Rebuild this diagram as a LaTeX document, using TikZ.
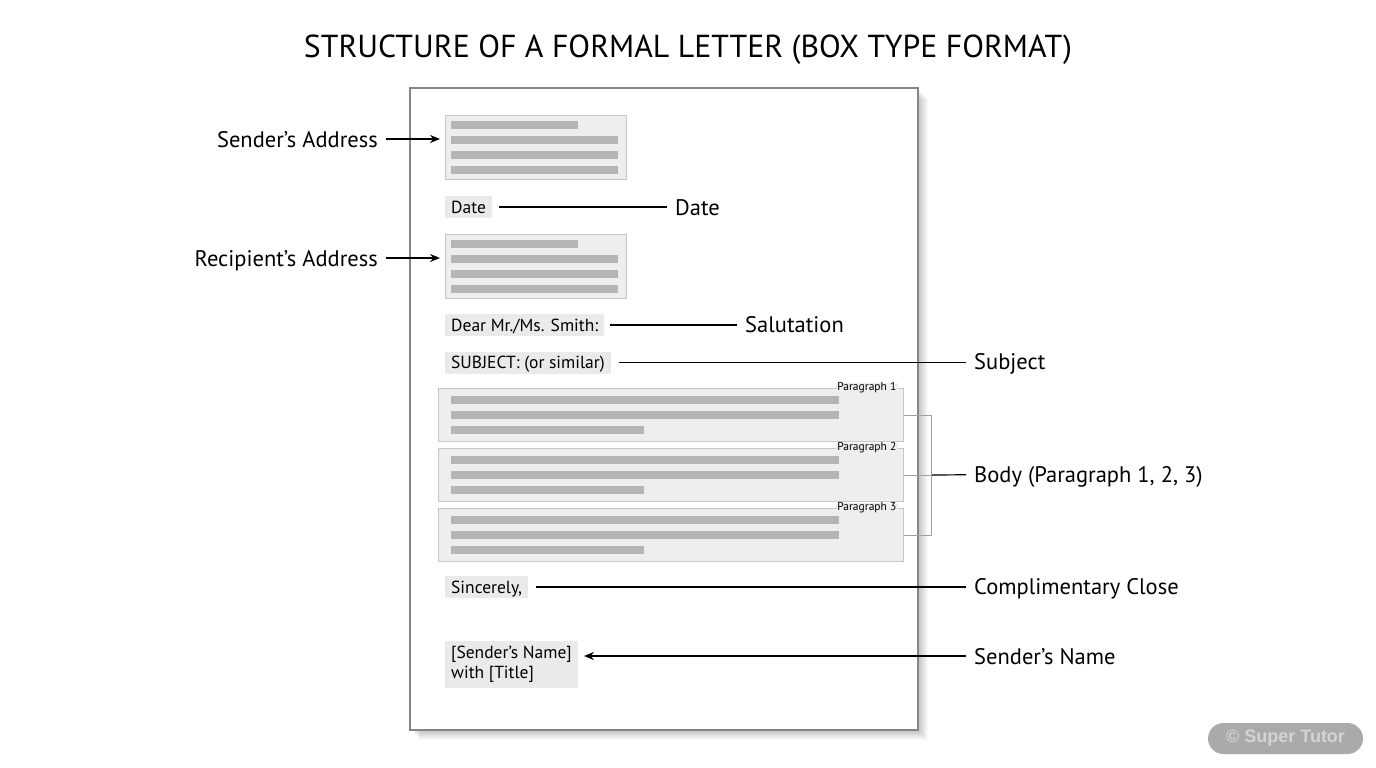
\documentclass[tikz,border=0pt]{standalone}
\usepackage{fontspec}
\setmainfont{PT Sans}
\newfontfamily\markfont{Liberation Sans}
\usetikzlibrary{arrows.meta,positioning}
\definecolor{barc}{HTML}{B5B5B5}
\definecolor{boxc}{HTML}{EEEEEE}
\definecolor{edgec}{HTML}{C6C6C6}
\definecolor{tagc}{HTML}{EAEAEA}
\definecolor{framec}{HTML}{858585}
\definecolor{brkc}{HTML}{A0A0A0}
\definecolor{pillc}{HTML}{AAAAAA}
\definecolor{pilltxt}{HTML}{D4D4D4}
\tikzset{
  addrbox/.style={draw=edgec, fill=boxc, line width=1pt, minimum width=181pt, minimum height=64pt, anchor=north west, inner sep=0pt},
  parabox/.style={draw=edgec, fill=boxc, line width=1pt, minimum width=465pt, minimum height=53pt, anchor=north west, inner sep=0pt},
  tagbase/.style={fill=tagc, anchor=west, font=\fontsize{17.5}{20}\selectfont, inner xsep=6pt, inner ysep=3pt, align=left},
  tagbox/.style={tagbase, text height=14pt, text depth=2pt},
  lbl/.style={font=\fontsize{22.5}{26}\selectfont, inner xsep=8pt, inner ysep=0pt, text height=16pt, text depth=0pt},
  partag/.style={fill=boxc, font=\fontsize{11.5}{13}\selectfont, inner xsep=1.5pt, inner ysep=0pt, anchor=east},
  lead/.style={line width=1.2pt},
  brk/.style={draw=brkc, line width=0.9pt},
}
\newcommand{\addrlines}[1]{%
  \fill[barc] (451,#1+6) rectangle (578,#1+14);
  \foreach \dy in {21,36,51} \fill[barc] (451,#1+\dy) rectangle (618,#1+\dy+8);}
\newcommand{\paralines}[1]{%
  \foreach \dy in {8,23} \fill[barc] (451,#1+\dy) rectangle (839,#1+\dy+8);
  \fill[barc] (451,#1+38) rectangle (644,#1+46);}
\begin{document}
\begin{tikzpicture}[x=1pt, y=-1pt]
  \useasboundingbox (0,0) rectangle (1376,768);
  \fill[white] (0,0) rectangle (1376,768);
  \node[font=\fontsize{31.8}{36}\selectfont, text height=22pt, text depth=0pt, inner sep=0pt] (title) at (688,47) {STRUCTURE OF A FORMAL LETTER (BOX TYPE FORMAT)};

  \foreach \i in {1,...,10}
    \fill[black, opacity=0.022] (410+\i,88+\i+1) rectangle (918+\i,730+\i);
  \draw[framec, fill=white, line width=1.3pt] (410,88) rectangle (918,730);

  \node[addrbox] (sAddr) at (445,115) {};
  \addrlines{115}
  \node[tagbox] (date) at (445,207) {Date};
  \node[addrbox] (rAddr) at (445,234) {};
  \addrlines{234}
  \node[tagbox] (dear) at (445,325) {Dear Mr./Ms. Smith:};
  \node[tagbox] (subj) at (445,362.5) {SUBJECT: (or similar)};
  \node[parabox] (p1) at (438,388) {};
  \node[parabox] (p2) at (438,448) {};
  \node[parabox] (p3) at (438,508) {};
  \paralines{388}
  \paralines{448}
  \paralines{508}
  \node[partag] (t1) at (898,388) {Paragraph 1};
  \node[partag] (t2) at (898,448) {Paragraph 2};
  \node[partag] (t3) at (898,508) {Paragraph 3};
  \node[tagbox] (close) at (445,587) {Sincerely,};
  \node[tagbase, inner ysep=5pt, minimum height=45pt] (sName) at (445,664.5) {[Sender’s Name]\\with [Title]};

  \node[lbl, anchor=east] (lSAddr) at (386,139) {Sender’s Address};
  \node[lbl, anchor=east] (lRAddr) at (386,258) {Recipient’s Address};
  \node[lbl, anchor=west] (lDate) at (667,207) {Date};
  \node[lbl, anchor=west] (lSal) at (737,324) {Salutation};
  \node[lbl, anchor=west] (lSubj) at (966,361) {Subject};
  \node[lbl, anchor=west] (lBody) at (966,474) {Body (Paragraph 1, 2, 3)};
  \node[lbl, anchor=west] (lClose) at (966,586) {Complimentary Close};
  \node[lbl, anchor=west] (lName) at (966,656) {Sender’s Name};
  \coordinate (bk) at (931,474);

  \begin{scope}[lead]
    \draw[-{Stealth[length=10pt,width=8pt]}, shorten >=5pt] (lSAddr) -- (sAddr.west |- lSAddr);
    \draw[-{Stealth[length=10pt,width=8pt]}, shorten >=5pt] (lRAddr) -- (rAddr.west |- lRAddr);
    \draw[shorten <=7pt] (date) -- (lDate);
    \draw[shorten <=6pt] (dear) -- (dear -| lSal.west);
    \draw[shorten <=8pt] (subj) -- (subj -| lSubj.west);
    \draw (p2.east -| bk) -- (lBody);
    \draw[shorten <=8pt] (close) -- (close -| lClose.west);
    \draw[-{Stealth[length=10pt,width=8pt]}, shorten >=6pt] (lName) -- (lName -| sName.east);
  \end{scope}
  \draw[brk] (p1.east) -- (p1.east -| bk) -- (p3.east -| bk) -- (p3.east);
  \draw[brk] (p2.east) -- (p2.east -| bk);

  \node[fill=pillc, rounded corners=15.5pt, minimum width=155pt, minimum height=31pt, text=pilltxt, font=\markfont\bfseries\fontsize{18}{20}\selectfont] (mark) at (1285.5,738.5) {© Super Tutor};
\end{tikzpicture}
\end{document}
